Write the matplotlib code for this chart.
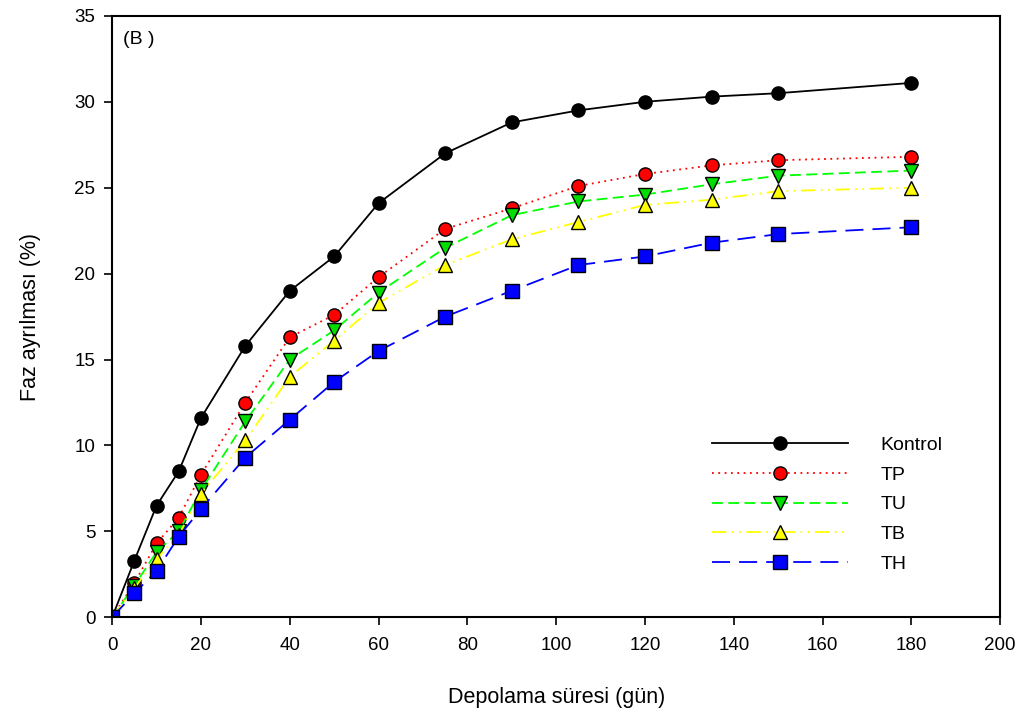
import matplotlib
matplotlib.use('Agg')
import matplotlib.pyplot as plt

plt.rcParams['font.family'] = ['Liberation Sans', 'DejaVu Sans']

# storage days
days = [0, 5, 10, 15, 20, 30, 40, 50, 60, 75, 90, 105, 120, 135, 150, 180]

# phase separation (%)
kontrol = [0, 3.3, 6.5, 8.5, 11.6, 15.8, 19.0, 21.0, 24.1, 27.0, 28.8, 29.5, 30.0, 30.3, 30.5, 31.1]
tp = [0, 2.0, 4.3, 5.8, 8.3, 12.5, 16.3, 17.6, 19.8, 22.6, 23.8, 25.1, 25.8, 26.3, 26.6, 26.8]
tu = [0, 1.85, 3.8, 5.0, 7.4, 11.4, 15.0, 16.7, 18.9, 21.5, 23.4, 24.2, 24.6, 25.2, 25.7, 26.0]
tb = [0, 1.7, 3.4, 4.8, 7.2, 10.3, 14.0, 16.1, 18.3, 20.5, 22.0, 23.0, 24.0, 24.3, 24.8, 25.0]
th = [0, 1.4, 2.7, 4.7, 6.3, 9.3, 11.5, 13.7, 15.5, 17.5, 19.0, 20.5, 21.0, 21.8, 22.3, 22.7]

series = [
    ('Kontrol', kontrol, 'black', 'black', 'o', '-'),
    ('TP', tp, 'red', 'red', 'o', (0, (1, 2.5))),
    ('TU', tu, '#00ff00', '#00dd00', 'v', (0, (6, 3))),
    ('TB', tb, '#ffff00', '#ffff00', '^', (0, (8, 3, 1, 3, 1, 3))),
    ('TH', th, '#0000ff', '#0000ff', 's', (0, (10, 5))),
]

fig = plt.figure(figsize=(10.29, 7.22), dpi=100)
ax = fig.add_axes([0.109, 0.145, 0.863, 0.833])

for name, vals, lc, fc, mk, ls in series:
    ax.plot(days, vals, color=lc, linestyle=ls, linewidth=1.3,
            marker=mk, markersize=9.5, markerfacecolor=fc,
            markeredgecolor='black', markeredgewidth=1.0, label=name)

ax.set_xlim(0, 200)
ax.set_ylim(0, 35)
ax.set_xticks(range(0, 201, 20))
ax.set_yticks(range(0, 36, 5))
ax.tick_params(axis='both', labelsize=13.5, direction='out', length=6, width=1.2,
               top=False, right=False)
ax.tick_params(axis='x', pad=8)
ax.tick_params(axis='y', pad=6)
for sp in ax.spines.values():
    sp.set_linewidth(1.5)

ax.set_xlabel('Depolama süresi (gün)', fontsize=15.5, labelpad=24)
ax.set_ylabel('Faz ayrılması (%)', fontsize=15.5, labelpad=24)
ax.text(0.012, 0.975, '(B )', transform=ax.transAxes, fontsize=14,
        va='top', ha='left')

leg = ax.legend(loc='lower right', bbox_to_anchor=(0.955, 0.045), frameon=False,
                fontsize=14, handlelength=7.0, handletextpad=1.7,
                labelspacing=0.62)

plt.savefig('out.png', dpi=100)
